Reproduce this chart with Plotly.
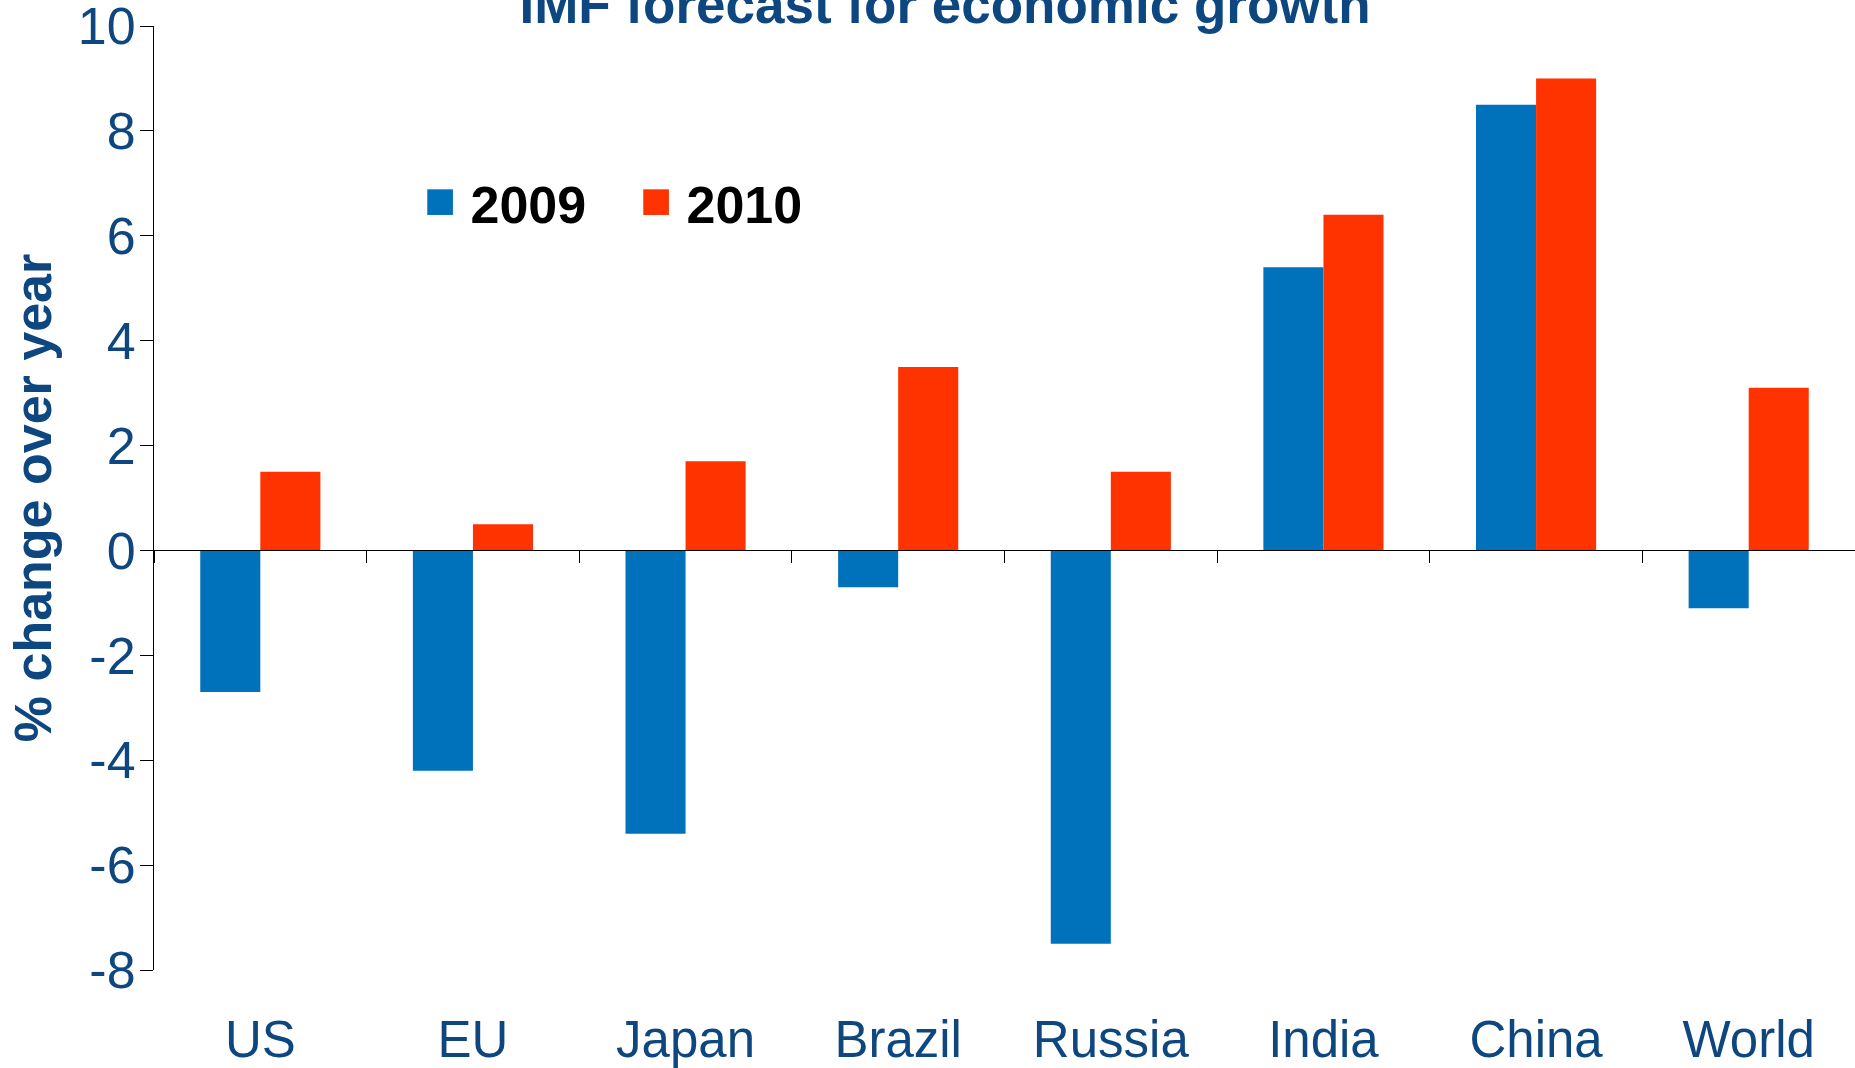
import plotly.graph_objects as go

categories = ["US", "EU", "Japan", "Brazil", "Russia", "India", "China", "World"]
growth_2009 = [-2.7, -4.2, -5.4, -0.7, -7.5, 5.4, 8.5, -1.1]
growth_2010 = [1.5, 0.5, 1.7, 3.5, 1.5, 6.4, 9.0, 3.1]
y_ticks = [-8, -6, -4, -2, 0, 2, 4, 6, 8, 10]
y_tick_labels = ["-8", "-6", "-4", "-2", "0", "2", "4", "6", "8", "10"]
series_names = ["2009", "2010"]

BLUE = "#0072BC"
RED = "#FF3300"
TEXT = "#0E4780"
FONT = "Liberation Sans, Arial, sans-serif"

pos = list(range(len(categories)))
boundaries = [i - 0.5 for i in range(len(categories))]
x_range = [-0.5, len(categories) - 0.5]

fig = go.Figure()
fig.add_bar(x=pos, y=growth_2009, marker=dict(color=BLUE, line=dict(width=0)),
            name=series_names[0], showlegend=False)
fig.add_bar(x=pos, y=growth_2010, marker=dict(color=RED, line=dict(width=0)),
            name=series_names[1], showlegend=False)

# legend entries with large square keys
for name, color in zip(series_names, [BLUE, RED]):
    fig.add_scatter(x=[None], y=[None], mode="markers",
                    marker=dict(color="rgba(0,0,0,0)", size=1,
                                line=dict(width=0, color="rgba(0,0,0,0)")),
                    name=(f'<span style="color:{color};font-size:53px;'
                          f'baseline-shift:5px">■</span> {name}'),
                    hoverinfo="skip")

# invisible trace to bind the zero-line axis
fig.add_scatter(x=[None], y=[None], xaxis="x2", showlegend=False, hoverinfo="skip")

fig.update_layout(
    width=1855, height=1068,
    margin=dict(l=154, r=0, t=26, b=98, autoexpand=False),
    paper_bgcolor="white", plot_bgcolor="white",
    barmode="group", bargap=0.435, bargroupgap=0,
    font=dict(family=FONT, color=TEXT),
    title=dict(text="<b>IMF forecast for economic growth</b>",
               font=dict(family=FONT, size=53, color=TEXT),
               x=945 / 1855, xanchor="center", xref="container",
               y=1 - 4.3 / 1068, yanchor="middle", yref="container"),
    showlegend=True,
    legend=dict(orientation="h", x=(384 - 154) / 1701, xanchor="left",
                y=(970 - 203) / 944, yanchor="middle",
                font=dict(family=FONT, size=52, color="black", weight="bold"),
                entrywidth=171, entrywidthmode="pixels",
                bgcolor="rgba(0,0,0,0)", borderwidth=0),
    xaxis=dict(range=x_range, tickmode="array", tickvals=pos, ticktext=categories,
               showline=False, showgrid=False, zeroline=False, ticks="",
               ticklabelstandoff=35, automargin=False, ticklabeloverflow="allow",
               tickfont=dict(family=FONT, size=51, color=TEXT)),
    xaxis2=dict(overlaying="x", anchor="free", position=8 / 18, side="bottom",
                range=x_range, tickmode="array", tickvals=boundaries,
                showticklabels=False, ticks="outside", ticklen=12, tickwidth=1,
                tickcolor="black", showline=True, linecolor="black", linewidth=1,
                showgrid=False, zeroline=False, automargin=False),
    yaxis=dict(range=[-8, 10], tickmode="array", tickvals=y_ticks,
               ticktext=y_tick_labels, ticklabeloverflow="allow",
               ticks="outside", ticklen=13, tickwidth=1, tickcolor="black",
               showline=True, linecolor="black", linewidth=1,
               showgrid=False, zeroline=False, automargin=False,
               ticklabelstandoff=-6,
               tickfont=dict(family=FONT, size=52, color=TEXT),
               title=dict(text="<b>% change over year</b>",
                          font=dict(family=FONT, size=52, color=TEXT),
                          standoff=9)),
)

fig.write_html("out.html")
